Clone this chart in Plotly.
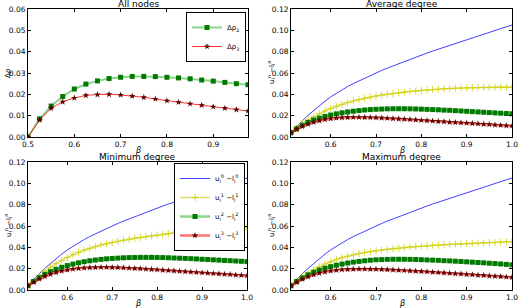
import plotly.graph_objects as go

# ---------------- data ----------------
beta_all = [0.5, 0.525, 0.55, 0.575, 0.6, 0.625, 0.65, 0.675, 0.7, 0.725,
            0.75, 0.775, 0.8, 0.825, 0.85, 0.875, 0.9, 0.925, 0.95, 0.975]
drho2 = [0.0, 0.0085, 0.0145, 0.019, 0.0225, 0.0248, 0.0263, 0.0274, 0.028, 0.0284,
         0.0284, 0.0283, 0.028, 0.0277, 0.0273, 0.0267, 0.0262, 0.0256, 0.025, 0.0245]
drho3 = [0.0, 0.008, 0.0135, 0.0165, 0.0183, 0.0195, 0.0199, 0.02, 0.0197, 0.0192,
         0.0186, 0.0178, 0.017, 0.0163, 0.0156, 0.0149, 0.0142, 0.0135, 0.0128, 0.0122]

beta = [0.5125, 0.525, 0.5375, 0.55, 0.5625, 0.575, 0.5875, 0.6, 0.6125, 0.625,
        0.6375, 0.65, 0.6625, 0.675, 0.6875, 0.7, 0.7125, 0.725, 0.7375, 0.75,
        0.7625, 0.775, 0.7875, 0.8, 0.8125, 0.825, 0.8375, 0.85, 0.8625, 0.875,
        0.8875, 0.9, 0.9125, 0.925, 0.9375, 0.95, 0.9625, 0.975, 0.9875, 1.0]

blue = [0.0040, 0.0098, 0.0152, 0.0203, 0.0250, 0.0294, 0.0336, 0.0376, 0.0411, 0.0443,
        0.0473, 0.0501, 0.0527, 0.0552, 0.0577, 0.0601, 0.0624, 0.0646, 0.0667, 0.0688,
        0.0708, 0.0728, 0.0748, 0.0768, 0.0787, 0.0806, 0.0824, 0.0842, 0.0860, 0.0878,
        0.0896, 0.0913, 0.0931, 0.0948, 0.0965, 0.0982, 0.0999, 0.1016, 0.1033, 0.1050]

avg_y = [0.0040, 0.0085, 0.0125, 0.0160, 0.0190, 0.0218, 0.0244, 0.0268, 0.0288, 0.0306,
         0.0323, 0.0338, 0.0351, 0.0363, 0.0374, 0.0384, 0.0393, 0.0401, 0.0408, 0.0415,
         0.0421, 0.0427, 0.0432, 0.0437, 0.0441, 0.0445, 0.0449, 0.0452, 0.0455, 0.0457,
         0.0459, 0.0461, 0.0463, 0.0464, 0.0465, 0.0466, 0.0467, 0.0467, 0.0467, 0.0467]
avg_g = [0.0040, 0.0078, 0.0110, 0.0137, 0.0159, 0.0177, 0.0193, 0.0206, 0.0217, 0.0227,
         0.0235, 0.0242, 0.0248, 0.0253, 0.0257, 0.0260, 0.0262, 0.0264, 0.0265, 0.0265,
         0.0265, 0.0264, 0.0263, 0.0261, 0.0259, 0.0257, 0.0255, 0.0252, 0.0250, 0.0247,
         0.0244, 0.0241, 0.0238, 0.0235, 0.0232, 0.0229, 0.0226, 0.0223, 0.0220, 0.0218]
avg_r = [0.0040, 0.0072, 0.0099, 0.0121, 0.0139, 0.0153, 0.0164, 0.0172, 0.0178, 0.0182,
         0.0184, 0.0185, 0.0185, 0.0184, 0.0183, 0.0181, 0.0179, 0.0176, 0.0173, 0.0170,
         0.0167, 0.0164, 0.0160, 0.0157, 0.0154, 0.0150, 0.0147, 0.0144, 0.0140, 0.0137,
         0.0134, 0.0131, 0.0127, 0.0124, 0.0121, 0.0118, 0.0114, 0.0110, 0.0107, 0.0103]

min_y = [0.0040, 0.0088, 0.0133, 0.0175, 0.0213, 0.0247, 0.0278, 0.0306, 0.0331, 0.0353,
         0.0373, 0.0391, 0.0407, 0.0421, 0.0434, 0.0446, 0.0457, 0.0467, 0.0476, 0.0485,
         0.0493, 0.0500, 0.0507, 0.0514, 0.0521, 0.0528, 0.0534, 0.0540, 0.0545, 0.0550,
         0.0554, 0.0558, 0.0562, 0.0566, 0.0569, 0.0572, 0.0576, 0.0579, 0.0582, 0.0585]
min_g = [0.0040, 0.0080, 0.0115, 0.0146, 0.0172, 0.0194, 0.0213, 0.0229, 0.0243, 0.0255,
         0.0265, 0.0274, 0.0281, 0.0287, 0.0292, 0.0296, 0.0299, 0.0302, 0.0304, 0.0305,
         0.0306, 0.0306, 0.0306, 0.0305, 0.0304, 0.0302, 0.0300, 0.0298, 0.0296, 0.0294,
         0.0291, 0.0288, 0.0286, 0.0283, 0.0280, 0.0277, 0.0275, 0.0272, 0.0269, 0.0266]
min_r = [0.0040, 0.0074, 0.0103, 0.0128, 0.0148, 0.0165, 0.0178, 0.0189, 0.0197, 0.0203,
         0.0207, 0.0210, 0.0212, 0.0213, 0.0213, 0.0212, 0.0211, 0.0209, 0.0206, 0.0203,
         0.0200, 0.0197, 0.0194, 0.0190, 0.0187, 0.0183, 0.0180, 0.0176, 0.0173, 0.0169,
         0.0166, 0.0162, 0.0159, 0.0155, 0.0152, 0.0148, 0.0145, 0.0141, 0.0138, 0.0134]

max_y = [0.0040, 0.0085, 0.0125, 0.0160, 0.0191, 0.0219, 0.0244, 0.0266, 0.0285, 0.0302,
         0.0317, 0.0330, 0.0341, 0.0351, 0.0360, 0.0368, 0.0375, 0.0381, 0.0387, 0.0392,
         0.0399, 0.0404, 0.0408, 0.0412, 0.0415, 0.0418, 0.0421, 0.0424, 0.0427, 0.0430,
         0.0433, 0.0436, 0.0438, 0.0440, 0.0442, 0.0444, 0.0446, 0.0449, 0.0451, 0.0453]
max_g = [0.0040, 0.0079, 0.0113, 0.0142, 0.0166, 0.0187, 0.0204, 0.0219, 0.0232, 0.0243,
         0.0253, 0.0261, 0.0268, 0.0274, 0.0279, 0.0283, 0.0285, 0.0287, 0.0288, 0.0288,
         0.0288, 0.0287, 0.0286, 0.0284, 0.0282, 0.0280, 0.0278, 0.0275, 0.0273, 0.0270,
         0.0267, 0.0264, 0.0261, 0.0258, 0.0255, 0.0251, 0.0248, 0.0244, 0.0240, 0.0236]
max_r = [0.0040, 0.0073, 0.0101, 0.0124, 0.0143, 0.0158, 0.0170, 0.0179, 0.0186, 0.0191,
         0.0194, 0.0196, 0.0197, 0.0197, 0.0196, 0.0195, 0.0193, 0.0191, 0.0189, 0.0186,
         0.0183, 0.0180, 0.0177, 0.0174, 0.0171, 0.0167, 0.0164, 0.0161, 0.0157, 0.0154,
         0.0151, 0.0147, 0.0144, 0.0140, 0.0137, 0.0133, 0.0130, 0.0126, 0.0122, 0.0118]

titles = ["All nodes", "Average degree", "Minimum degree", "Maximum degree"]
legend_names = ["u<sub>i</sub><sup>0</sup> −l<sub>i</sub><sup>0</sup>",
                "u<sub>i</sub><sup>1</sup> −l<sub>i</sub><sup>1</sup>",
                "u<sub>i</sub><sup>2</sup> −l<sub>i</sub><sup>2</sup>",
                "u<sub>i</sub><sup>3</sup> −l<sub>i</sub><sup>3</sup>"]

# ---------------- layout helpers ----------------
W, H = 518, 308
FONT = "DejaVu Sans"

def px(x):
    return x / W

def py(y):
    return 1 - y / H

panels = {  # (x0, x1, ytop, ybottom) in pixels
    1: (28, 248, 9, 137),
    2: (291, 512, 9, 137),
    3: (28, 247, 162, 290),
    4: (291, 512, 162, 290),
}

fig = go.Figure()

GREEN_LINE = "rgba(0,160,0,0.45)"
RED_LINE = "rgba(255,0,0,0.55)"
YEL_LINE = "rgba(200,200,0,0.6)"

# panel 1
fig.add_trace(go.Scatter(x=beta_all, y=drho2, name="Δρ<sub>2</sub>", mode="lines+markers",
                         line=dict(color=GREEN_LINE, width=2),
                         marker=dict(symbol="square", size=5, color="#007a00"),
                         xaxis="x", yaxis="y", legend="legend"))
fig.add_trace(go.Scatter(x=beta_all, y=drho3, name="Δρ<sub>3</sub>", mode="lines+markers",
                         line=dict(color="rgba(255,0,0,0.8)", width=1),
                         marker=dict(symbol="star", size=5, color="#5a0000"),
                         xaxis="x", yaxis="y", legend="legend"))

sets = {2: (blue, avg_y, avg_g, avg_r), 3: (blue, min_y, min_g, min_r), 4: (blue, max_y, max_g, max_r)}
for k, (b, yy, gg, rr) in sets.items():
    xa, ya = f"x{k}", f"y{k}"
    show = (k == 3)
    fig.add_trace(go.Scatter(x=beta, y=b, name=legend_names[0], mode="lines",
                             line=dict(color="rgba(0,0,255,0.75)", width=1),
                             xaxis=xa, yaxis=ya, showlegend=show, legend="legend2"))
    fig.add_trace(go.Scatter(x=beta, y=yy, name=legend_names[1], mode="lines+markers",
                             line=dict(color=YEL_LINE, width=1.5),
                             marker=dict(symbol="cross-thin", size=5, color="#d0d000",
                                         line=dict(color="#d0d000", width=0.8)),
                             xaxis=xa, yaxis=ya, showlegend=show, legend="legend2"))
    fig.add_trace(go.Scatter(x=beta, y=gg, name=legend_names[2], mode="lines+markers",
                             line=dict(color=GREEN_LINE, width=2.5),
                             marker=dict(symbol="square", size=5, color="#007a00"),
                             xaxis=xa, yaxis=ya, showlegend=show, legend="legend2"))
    fig.add_trace(go.Scatter(x=beta, y=rr, name=legend_names[3], mode="lines+markers",
                             line=dict(color=RED_LINE, width=2.5),
                             marker=dict(symbol="star", size=5, color="#5a0000"),
                             xaxis=xa, yaxis=ya, showlegend=show, legend="legend2"))

axis_common = dict(showline=True, linecolor="black", linewidth=1, mirror="ticks",
                   ticks="inside", ticklen=3, tickcolor="black", showgrid=False,
                   zeroline=False, automargin=False, ticklabeloverflow="allow",
                   tickfont=dict(family=FONT, size=7.5, color="black"))

layout = dict(template="none", width=W, height=H, margin=dict(l=0, r=0, t=0, b=0, autoexpand=False),
              paper_bgcolor="white", plot_bgcolor="white",
              font=dict(family=FONT, size=8, color="black"))

for k, (x0, x1, yt, yb) in panels.items():
    xs = "" if k == 1 else str(k)
    if k == 1:
        xr = [0.5, 0.975]
        xt = [0.5, 0.6, 0.7, 0.8, 0.9]
        yr = [0, 0.06]
        yt_vals = [0, 0.01, 0.02, 0.03, 0.04, 0.05, 0.06]
    else:
        xr = [0.5125, 1.0]
        xt = [0.6, 0.7, 0.8, 0.9, 1.0]
        yr = [0, 0.12]
        yt_vals = [0, 0.02, 0.04, 0.06, 0.08, 0.10, 0.12]
    layout["xaxis" + xs] = dict(axis_common, domain=[px(x0), px(x1)], range=xr,
                                tickvals=xt, ticktext=[f"{v:.1f}" for v in xt],
                                anchor="y" + xs)
    layout["yaxis" + xs] = dict(axis_common, domain=[py(yb), py(yt)], range=yr,
                                tickvals=yt_vals, ticktext=[f"{v:.2f}" for v in yt_vals],
                                anchor="x" + xs)

annotations = []
for k, (x0, x1, yt, yb) in panels.items():
    cx = (x0 + x1) / 2
    annotations.append(dict(text=titles[k - 1], x=px(cx), y=py(yt - 5), xref="paper", yref="paper",
                            showarrow=False, font=dict(family=FONT, size=9, color="black"),
                            xanchor="center", yanchor="middle"))
    annotations.append(dict(text="<i>β</i>", x=px(cx), y=py(yb + 13), xref="paper", yref="paper",
                            showarrow=False, font=dict(family=FONT, size=8, color="black"),
                            xanchor="center", yanchor="middle"))
    ylab = "Δ<i>ρ</i>" if k == 1 else "u<sub>i</sub><sup>n</sup> −l<sub>i</sub><sup>n</sup>"
    annotations.append(dict(text=ylab, x=px(x0 - 20), y=py((yt + yb) / 2), xref="paper", yref="paper",
                            showarrow=False, textangle=-90,
                            font=dict(family=FONT, size=7, color="black"),
                            xanchor="center", yanchor="middle"))
layout["annotations"] = annotations

layout["legend"] = dict(x=px(246), y=py(12), xanchor="right", yanchor="top",
                        bgcolor="white", bordercolor="black", borderwidth=1,
                        font=dict(family=FONT, size=7, color="black"),
                        itemwidth=30, tracegroupgap=0)
layout["legend2"] = dict(x=px(245), y=py(163), xanchor="right", yanchor="top",
                         bgcolor="white", bordercolor="black", borderwidth=1,
                         font=dict(family=FONT, size=7, color="black"),
                         itemwidth=30, tracegroupgap=0)

fig.update_layout(**layout)
fig.write_html("out.html", config={"displayModeBar": False},
               post_script="document.body.style.margin='0px';document.body.style.padding='0px';document.body.style.overflow='hidden';")
